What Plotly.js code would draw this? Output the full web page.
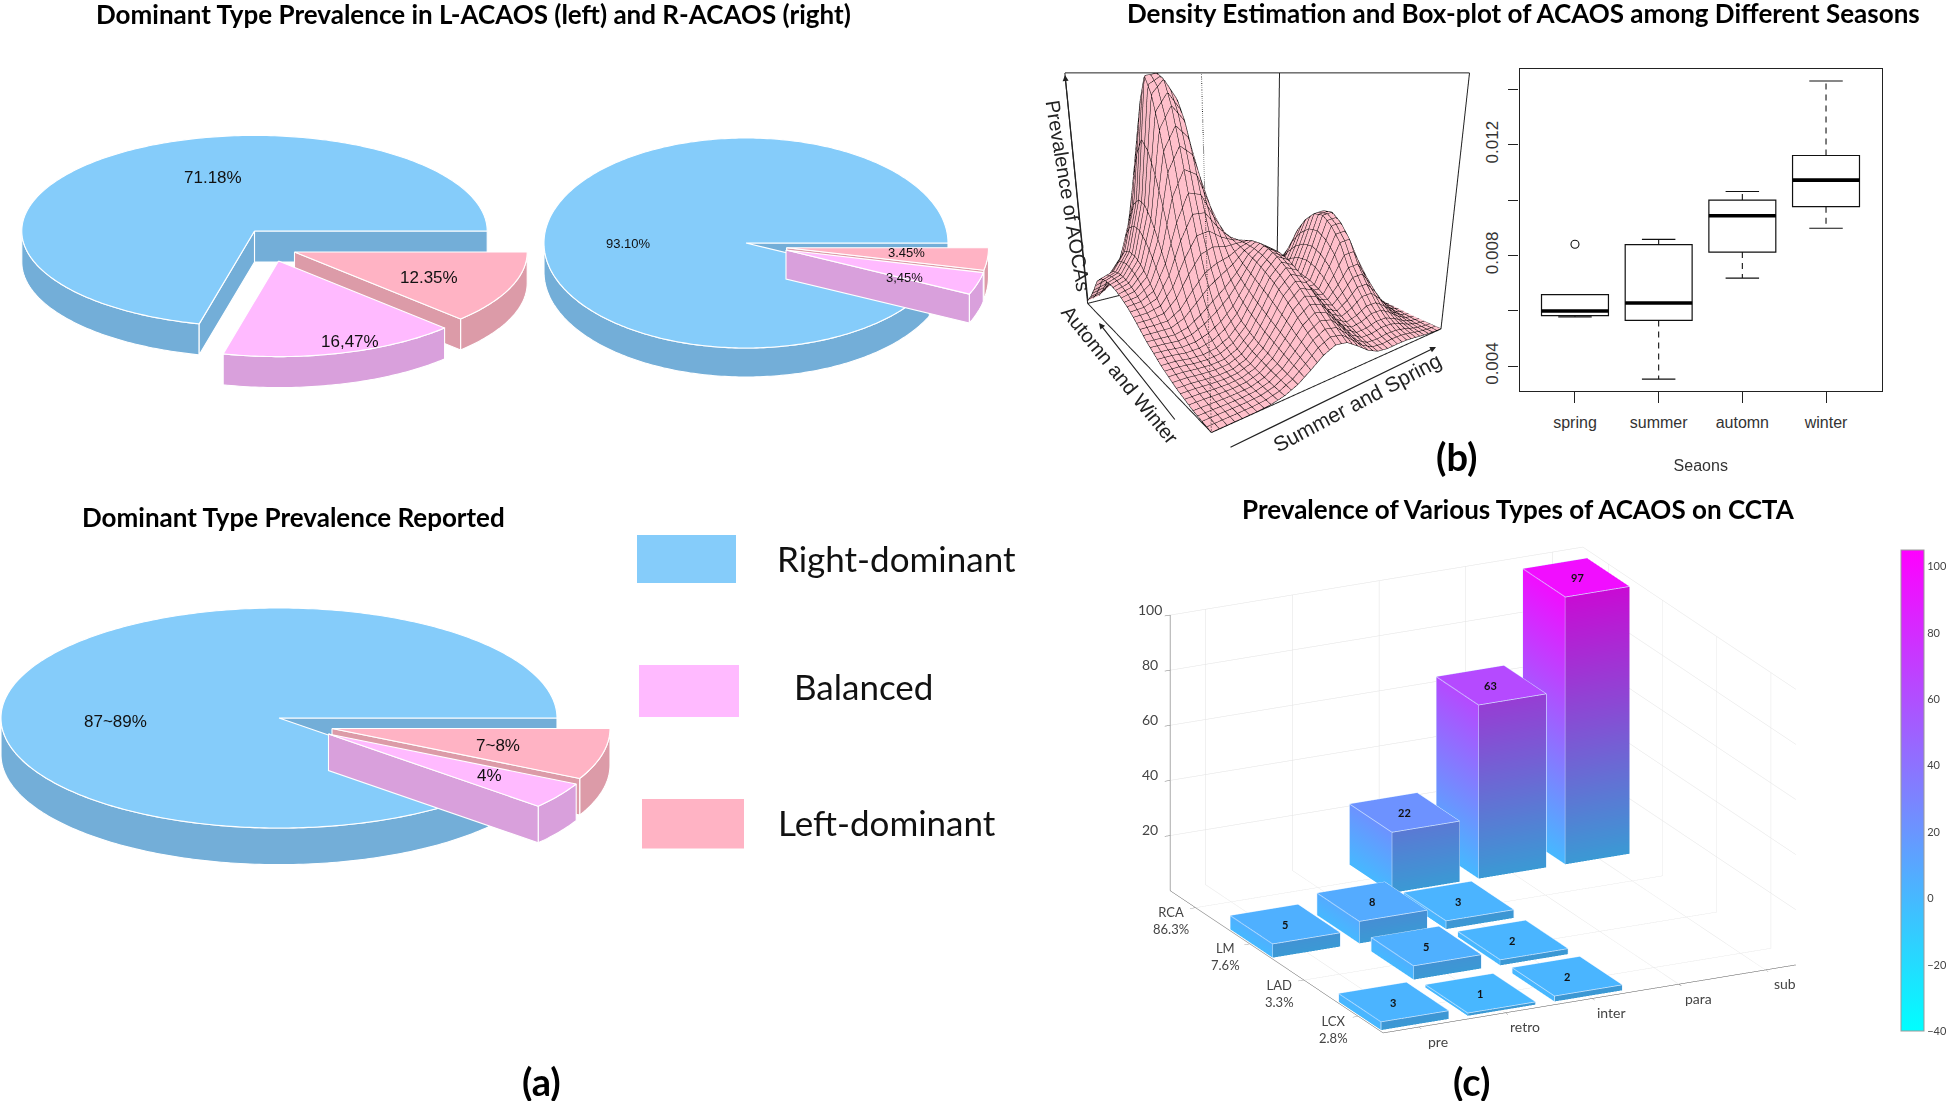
<!DOCTYPE html>
<html><head><meta charset="utf-8">
<script src="https://cdn.plot.ly/plotly-3.0.1.min.js"></script>
<style>html,body{margin:0;padding:0;background:#fff;overflow:hidden}#c{width:1946px;height:1101px}</style>
</head><body><div id="c"></div>
<script>
// ---------- data ----------
const domTypes = ['Right-dominant','Balanced','Left-dominant'];
const sharesLeftPie = [71.18,16.47,12.35];
const labelsLeftPie = ['71.18%','16,47%','12.35%'];
const sharesRightPie = [93.10,3.45,3.45];
const labelsRightPie = ['93.10%','3,45%','3.45%'];
const sharesReported = [88.6,3.9,7.5];
const labelsReported = ['87~89%','4%','7~8%'];

const seasons = ['spring','summer','automn','winter'];
const seasonPos = [1,2,3,4];
const boxQ1 = [0.00582,0.00565,0.00812,0.00976];
const boxMedian = [0.00599,0.00628,0.00943,0.01072];
const boxQ3 = [0.00658,0.00839,0.0100,0.01161];
const boxLow = [0.00578,0.00353,0.00718,0.00898];
const boxHigh = [0.00658,0.00858,0.01031,0.0143];
const boxOutlierSeason = [1];
const boxOutlierValue = [0.0084];
const boxTicks = [0.004,0.006,0.008,0.010,0.012,0.014];
const boxTickText = ['0.004','','0.008','','0.012',''];

const gridU = [0,1,2,3,4,5,6,7,8,9,10,11,12,13,14,15,16,17,18,19,20];
const gridV = gridU;
const density = [
[0,0,0,.001,.004,.014,.035,.069,.106,.127,.118,.086,.05,.027,.02,.021,.02,.014,.007,.003,.001],
[.005,.005,.004,.004,.007,.019,.046,.09,.138,.164,.153,.111,.066,.039,.035,.041,.039,.029,.015,.005,.001],
[.01,.009,.007,.007,.01,.025,.058,.113,.172,.205,.191,.14,.086,.057,.059,.072,.071,.052,.027,.01,.003],
[.02,.018,.014,.012,.016,.032,.073,.138,.21,.25,.233,.171,.107,.079,.092,.118,.118,.087,.045,.016,.004],
[.03,.028,.022,.019,.022,.041,.087,.162,.245,.29,.27,.2,.13,.106,.137,.181,.182,.134,.069,.025,.007],
[.045,.042,.035,.031,.034,.057,.107,.188,.277,.326,.303,.225,.151,.135,.187,.25,.254,.186,.097,.035,.009],
[.06,.057,.048,.045,.054,.081,.132,.214,.303,.354,.329,.244,.168,.162,.25,.345,.35,.25,.124,.045,.012],
[.081,.076,.068,.072,.09,.122,.171,.244,.326,.371,.343,.255,.18,.183,.29,.405,.41,.295,.146,.053,.014],
[.101,.098,.094,.108,.143,.186,.228,.279,.343,.378,.346,.257,.185,.193,.31,.44,.445,.32,.158,.058,.015],
[.127,.126,.128,.161,.225,.284,.313,.329,.358,.374,.336,.25,.179,.19,.305,.435,.44,.315,.156,.057,.015],
[.153,.155,.169,.233,.338,.421,.431,.395,.373,.361,.317,.233,.166,.174,.28,.395,.4,.29,.142,.052,.013],
[.175,.181,.211,.312,.47,.582,.568,.47,.387,.341,.288,.21,.147,.149,.235,.33,.335,.24,.119,.043,.011],
[.191,.204,.253,.398,.66,.759,.719,.551,.398,.314,.253,.18,.123,.119,.172,.234,.238,.175,.091,.033,.009],
[.203,.22,.287,.469,.82,.909,.847,.616,.403,.284,.217,.151,.099,.089,.123,.165,.168,.123,.064,.023,.006],
[.209,.229,.307,.516,.95,1.007,.927,.652,.395,.252,.179,.122,.077,.063,.081,.107,.107,.079,.041,.015,.004],
[.207,.229,.311,.526,1.02,1.029,.94,.646,.369,.215,.144,.095,.058,.042,.05,.063,.064,.047,.024,.009,.002],
[.198,.218,.295,.497,.92,.966,.877,.593,.325,.175,.11,.07,.041,.027,.028,.035,.034,.025,.013,.005,.001],
[.167,.185,.252,.426,.77,.83,.752,.503,.268,.137,.081,.05,.029,.017,.015,.018,.017,.013,.007,.002,.001],
[.106,.122,.181,.325,.58,.655,.593,.394,.207,.102,.058,.035,.02,.011,.008,.008,.008,.006,.003,.001,0],
[.054,.068,.114,.224,.374,.47,.425,.283,.147,.071,.04,.023,.013,.007,.004,.004,.003,.002,.001,0,0],
[.013,.024,.06,.14,.245,.311,.283,.189,.098,.047,.026,.016,.008,.004,.002,.002,.001,.001,0,0,0]
];

const acaosTypes = ['pre','retro','inter','para','sub'];
const acaosTypePos = [1,2,3,4,5];
const arteries = ['LCX<br>2.8%','LAD<br>3.3%','LM<br>7.6%','RCA<br>86.3%'];
const arteryPos = [1,2,3,4];
const lcxCounts = [3,1,2,null,null];
const ladCounts = [null,5,2,null,null];
const lmCounts  = [5,8,3,null,null];
const rcaCounts = [null,null,22,63,97];
const zTicks = [20,40,60,80,100];
const colorTicks = [-40,-20,0,20,40,60,80,100];

// ---------- page helpers ----------
const W=1946,H=1101;
const PX=x=>x/W, PY=y=>1-y/H;
const topCol=['#85ccfa','#ffbaff','#ffb3c4'], sideCol=['#73aed8','#d9a0dc','#dc9ba8'];
const LAT='Lato, sans-serif', NARROW='"Liberation Sans", Arial, sans-serif', ARIAL='"Liberation Sans", Arial, sans-serif';

const traces=[];
function poly(xs,ys,fill){
  traces.push({type:'scatter',mode:'lines',x:xs.concat(xs[0]),y:ys.concat(ys[0]),fill:'toself',fillcolor:fill,
    line:{color:'#ffffff',width:1.1,simplify:false},hoverinfo:'skip',showlegend:false,xaxis:'x',yaxis:'y'});
}
function wedge(p,a0,a1,off,idx){
  const cx=p.cx+off[0],cy=p.cy+off[1];
  const pt=(a)=>[cx+p.rx*Math.cos(a*Math.PI/180),cy-p.ry*Math.sin(a*Math.PI/180)];
  const rimX=[],rimY=[];
  const r0=Math.max(a0,180),r1=Math.min(a1,360);
  if(r1>r0){
    for(let a=r0;a<r1;a+=1){const q=pt(a);rimX.push(q[0]);rimY.push(q[1]);}
    const q=pt(r1);rimX.push(q[0]);rimY.push(q[1]);
    poly(rimX.concat(rimX.slice().reverse()),rimY.concat(rimY.slice().reverse().map(v=>v+p.d)),sideCol[idx]);
  }
  const wall=(a)=>{const q=pt(a);poly([cx,q[0],q[0],cx],[cy,q[1],q[1]+p.d,cy+p.d],sideCol[idx]);};
  if(Math.cos(a0*Math.PI/180)>0) wall(a0);
  if(Math.cos(a1*Math.PI/180)<0) wall(a1);
  const tx=[cx],ty=[cy];
  for(let a=a0;a<a1;a+=1){const q=pt(a);tx.push(q[0]);ty.push(q[1]);}
  const q=pt(a1);tx.push(q[0]);ty.push(q[1]);
  poly(tx,ty,topCol[idx]);
}
function pie3d(shares,p){
  const a=[0];shares.forEach(s=>a.push(a[a.length-1]+s*3.6));
  wedge(p,a[0],a[1],[0,0],0);
  wedge(p,a[2],a[3],p.off[2],2);
  wedge(p,a[1],a[2],p.off[1],1);
}
pie3d(sharesLeftPie,{cx:254.5,cy:231,rx:232.7,ry:95.6,d:31,off:[null,[24,30],[40,21]]});
pie3d(sharesRightPie,{cx:746,cy:243,rx:202,ry:105,d:29,off:[null,[40,7],[40.5,4.7]]});
pie3d(sharesReported,{cx:279,cy:718,rx:278,ry:110,d:36.6,off:[null,[49.5,16],[53,10.5]]});

// ---------- box plot ----------
traces.push({type:'box',x:seasonPos,q1:boxQ1,median:boxMedian,q3:boxQ3,lowerfence:boxQ1,upperfence:boxQ3,width:.8,whiskerwidth:0,
  boxpoints:false,fillcolor:'rgba(0,0,0,0)',line:{color:'#111',width:1.2},xaxis:'x2',yaxis:'y2',showlegend:false,hoverinfo:'skip'});
const medX=[],medY=[],whX=[],whY=[],capX=[],capY=[];
seasonPos.forEach((s,i)=>{
  medX.push(s-.4,s+.4,null);medY.push(boxMedian[i],boxMedian[i],null);
  if(boxHigh[i]>boxQ3[i]){whX.push(s,s,null);whY.push(boxQ3[i],boxHigh[i],null);capX.push(s-.2,s+.2,null);capY.push(boxHigh[i],boxHigh[i],null);}
  whX.push(s,s,null);whY.push(boxQ1[i],boxLow[i],null);capX.push(s-.2,s+.2,null);capY.push(boxLow[i],boxLow[i],null);
});
traces.push({type:'scatter',mode:'lines',x:medX,y:medY,line:{color:'#000',width:3.6},xaxis:'x2',yaxis:'y2',showlegend:false,hoverinfo:'skip'});
traces.push({type:'scatter',mode:'lines',x:whX,y:whY,line:{color:'#111',width:1.1,dash:'6px,5px'},xaxis:'x2',yaxis:'y2',showlegend:false,hoverinfo:'skip'});
traces.push({type:'scatter',mode:'lines',x:capX,y:capY,line:{color:'#111',width:1.1},xaxis:'x2',yaxis:'y2',showlegend:false,hoverinfo:'skip'});
traces.push({type:'scatter',mode:'markers',x:boxOutlierSeason,y:boxOutlierValue,marker:{symbol:'circle-open',size:8,color:'#111',line:{width:1.1,color:'#111'}},xaxis:'x2',yaxis:'y2',showlegend:false,hoverinfo:'skip'});

// ---------- density surface ----------
traces.push({type:'surface',scene:'scene',x:gridU,y:gridV,z:density,showscale:false,cmin:0,cmax:1,
  colorscale:[[0,'#ffc0cb'],[1,'#ffc0cb']],
  lighting:{ambient:.92,diffuse:.25,specular:0,roughness:1,fresnel:0},lightposition:{x:-1000,y:-3000,z:3000},
  contours:{x:{show:true,start:0,end:20,size:.5,color:'#000000',width:1.4,highlight:false},
            y:{show:true,start:0,end:20,size:.5,color:'#000000',width:1.4,highlight:false},z:{highlight:false}},
  hoverinfo:'skip'});
const TOP=1.03;
const ln=(pts,dash,w,col)=>traces.push({type:'scatter3d',mode:'lines',scene:'scene',x:pts.map(p=>p&&p[0]),y:pts.map(p=>p&&p[1]),z:pts.map(p=>p&&p[2]),
  line:{color:col||'#222',width:w||2,dash:dash||'solid'},showlegend:false,hoverinfo:'skip'});
ln([[0,0,TOP],[20,0,TOP],[20,20,TOP],[0,20,TOP],[0,0,TOP],null,[0,20,0],[0,20,TOP],null,[20,0,0],[20,0,TOP],null,[20,20,0],[20,20,TOP],null,[0,0,0],[20,0,0],[20,20,0],[0,20,0],[0,0,0]]);
ln([[0,0,0],[0,0,TOP]],'dot',2);

// ---------- 3D bars ----------
const rows=[lcxCounts,ladCounts,lmCounts,rcaCounts];
const hw=.39;
const A={x:[],y:[],z:[],i:[],j:[],k:[],v:[]},B={x:[],y:[],z:[],i:[],j:[],k:[],v:[]};
const eX=[],eY=[],eZ=[],barNotes=[];
function face(m,c){const n=m.x.length;c.forEach(p=>{m.x.push(p[0]);m.y.push(p[1]);m.z.push(p[2]);m.v.push(p[3]);});m.i.push(n,n);m.j.push(n+1,n+2);m.k.push(n+2,n+3);}
rows.forEach((r,ri)=>r.forEach((val,ci)=>{
  if(val===null) return;
  const x0=acaosTypePos[ci]-hw,x1=acaosTypePos[ci]+hw,y0=arteryPos[ri]-hw,y1=arteryPos[ri]+hw;
  face(A,[[x0,y0,val,val],[x1,y0,val,val],[x1,y1,val,val],[x0,y1,val,val]]);
  face(A,[[x0,y0,0,0],[x0,y1,0,0],[x0,y1,val,val],[x0,y0,val,val]]);
  face(B,[[x0,y0,0,0],[x1,y0,0,0],[x1,y0,val,val],[x0,y0,val,val]]);
  [[x0,y0,val],[x1,y0,val],[x1,y1,val],[x0,y1,val],[x0,y0,val],[NaN,NaN,NaN],[x0,y0,0],[x0,y0,val],[NaN,NaN,NaN],[x0,y1,0],[x0,y1,val],[NaN,NaN,NaN],[x1,y0,0],[x1,y0,val],[NaN,NaN,NaN]]
    .forEach(p=>{eX.push(p[0]);eY.push(p[1]);eZ.push(p[2]);});
  barNotes.push({x:acaosTypePos[ci],y:arteryPos[ri],z:val,text:'<b>'+val+'</b>',showarrow:false,font:{family:LAT,size:11,color:'#111'}});
}));
const bright=[[0,'#00ffff'],[1,'#ff00ff']],dark=[[0,'#00d4d4'],[1,'#d400d4']];
traces.push({type:'mesh3d',scene:'scene2',x:A.x,y:A.y,z:A.z,i:A.i,j:A.j,k:A.k,intensity:A.v,colorscale:bright,cmin:-40,cmax:105,
  lighting:{ambient:1,diffuse:0,specular:0,fresnel:0,roughness:1},hoverinfo:'skip',
  colorbar:{x:PX(1901),xanchor:'left',y:PY(790.5),yanchor:'middle',len:481,lenmode:'pixels',thickness:23,thicknessmode:'pixels',xpad:0,ypad:0,
    tickvals:colorTicks,ticks:'',outlinecolor:'#999',outlinewidth:1,tickfont:{family:LAT,size:11,color:'#444'}}});
traces.push({type:'mesh3d',scene:'scene2',x:B.x,y:B.y,z:B.z,i:B.i,j:B.j,k:B.k,intensity:B.v,colorscale:dark,cmin:-40,cmax:105,showscale:false,
  lighting:{ambient:1,diffuse:0,specular:0,fresnel:0,roughness:1},hoverinfo:'skip'});
traces.push({type:'scatter3d',mode:'lines',scene:'scene2',x:eX,y:eY,z:eZ,line:{color:'#d8ecff',width:1.5},showlegend:false,hoverinfo:'skip'});

// ---------- layout ----------
const ann=(x,y,text,size,o)=>Object.assign({xref:'paper',yref:'paper',x:PX(x),y:PY(y),text:text,showarrow:false,xanchor:'center',yanchor:'middle',
  font:{family:LAT,size:size,color:'#000'}},o||{});
const bold=t=>'<b>'+t+'</b>';
const narrow=(x,y,t,s)=>ann(x,y,t,s,{font:{family:NARROW,size:s,color:'#111'}});
const persp=(x,y,t,s,a)=>ann(x,y,t,s,{textangle:a,font:{family:ARIAL,size:s,color:'#222'}});
const arrow=(x,y,x0,y0)=>({xref:'paper',yref:'paper',x:PX(x),y:PY(y),ax:x0-x,ay:y0-y,axref:'pixel',ayref:'pixel',text:'',showarrow:true,arrowhead:2,arrowsize:1,arrowwidth:1.2,arrowcolor:'#222'});
const annotations=[
  ann(473,14,bold('Dominant Type Prevalence in L-ACAOS (left) and R-ACAOS (right)'),26),
  ann(293,517,bold('Dominant Type Prevalence Reported'),26),
  ann(1523,13,bold('Density Estimation and Box-plot of ACAOS among Different Seasons'),26),
  ann(1518,509,bold('Prevalence of Various Types of ACAOS on CCTA'),26),
  ann(541,1081,bold('(a)'),38), ann(1456,456,bold('(b)'),38), ann(1471,1081,bold('(c)'),38),
  narrow(213,178,labelsLeftPie[0],17), narrow(350,341,labelsLeftPie[1],17), narrow(429,278,labelsLeftPie[2],17),
  narrow(628,244,labelsRightPie[0],13), narrow(904,278,labelsRightPie[1],13), narrow(906,253,labelsRightPie[2],13),
  narrow(115,721,labelsReported[0],17), narrow(489,775,labelsReported[1],17), narrow(498,745,labelsReported[2],17),
  ann(775,558,domTypes[0],35,{xanchor:'left',font:{family:LAT,size:35,color:'#111'}}),
  ann(792,686,domTypes[1],35,{xanchor:'left',font:{family:LAT,size:35,color:'#111'}}),
  ann(776,822,domTypes[2],35,{xanchor:'left',font:{family:LAT,size:35,color:'#111'}}),
  persp(1068,195,'Prevalence of AOCAs',20,80.6), persp(1120,375,'Automn and Winter',20,50.8), persp(1357,403,'Summer and Spring',21,-28),
  arrow(1065,75,1088,302), arrow(1099,323,1176,421), arrow(1436,347,1229,448)
];
const shapes=[[637,535,736,583,0],[639,665,739,717,1],[642,799,744,848.5,2]].map(s=>({type:'rect',xref:'paper',yref:'paper',x0:PX(s[0]),x1:PX(s[2]),y0:PY(s[1]),y1:PY(s[3]),fillcolor:topCol[s[4]],line:{width:0}}));

const xAxisNotes=acaosTypes.map((t,i)=>({x:acaosTypePos[i],y:.54,z:0,text:t,showarrow:false,xshift:20,yshift:-14,font:{family:LAT,size:14,color:'#444'}}));
const yAxisNotes=arteries.map((t,i)=>({x:.59,y:arteryPos[i],z:0,text:t,showarrow:false,xshift:-24,yshift:-13,font:{family:LAT,size:13,color:'#444'}}));
const zAxisNotes=zTicks.map(t=>({x:.59,y:4.47,z:t,text:String(t),showarrow:false,xshift:-20,yshift:6,font:{family:LAT,size:14,color:'#444'}}));
const gridAxis=(rng,vals)=>({range:rng,tickvals:vals,showticklabels:false,showgrid:true,gridcolor:'#e2e2e2',gridwidth:1,zeroline:false,showbackground:false,
  showline:true,linecolor:'#555',linewidth:1,ticks:'outside',ticklen:6,tickcolor:'#777',title:{text:''},showspikes:false});

const layout={width:W,height:H,margin:{l:0,r:0,t:0,b:0},paper_bgcolor:'#fff',plot_bgcolor:'rgba(0,0,0,0)',showlegend:false,
  xaxis:{domain:[0,1],range:[0,W],visible:false,fixedrange:true},yaxis:{domain:[0,1],range:[H,0],visible:false,fixedrange:true},
  xaxis2:{domain:[PX(1519.5),PX(1882)],anchor:'y2',range:[.337,4.669],tickvals:seasonPos,ticktext:seasons,showline:true,mirror:true,linecolor:'#222',linewidth:1.2,
    ticks:'outside',ticklen:11,tickcolor:'#222',showgrid:false,zeroline:false,ticklabelstandoff:6,tickfont:{family:ARIAL,size:16,color:'#333'},
    title:{text:'Seaons',font:{family:ARIAL,size:16,color:'#333'},standoff:29}},
  yaxis2:{domain:[PY(391),PY(69)],anchor:'x2',range:[.0031,.014735],tickvals:boxTicks,ticktext:boxTickText,tickangle:-90,showline:true,mirror:true,linecolor:'#222',linewidth:1.2,
    ticks:'outside',ticklen:10,tickcolor:'#222',showgrid:false,zeroline:false,ticklabelstandoff:4,tickfont:{family:ARIAL,size:17,color:'#333'}},
  scene:{domain:{x:[PX(1025),PX(1485)],y:[PY(440),PY(10)]},xaxis:{visible:false,range:[0,20]},yaxis:{visible:false,range:[0,20]},zaxis:{visible:false,range:[0,TOP]},
    aspectmode:'manual',aspectratio:{x:1.087,y:1.081,z:1},camera:{eye:{x:-1.184,y:-1.649,z:.5},center:{x:0,y:0,z:-.095},up:{x:0,y:0,z:1},projection:{type:'perspective'}},bgcolor:'rgba(0,0,0,0)'},
  scene2:{domain:{x:[PX(1082.5),PX(1882.5)],y:[PY(1090),PY(490)]},
    xaxis:gridAxis([.59,5.35],acaosTypePos),yaxis:gridAxis([.54,4.47],arteryPos),zaxis:gridAxis([0,100],zTicks),
    aspectmode:'manual',aspectratio:{x:.9625*1.596,y:1.596,z:.6101*1.596},
    camera:{eye:{x:-.4197*3,y:-.845*3,z:.3319*3},center:{x:0,y:0,z:0},up:{x:0,y:0,z:1},projection:{type:'orthographic'}},bgcolor:'rgba(0,0,0,0)',
    annotations:barNotes.concat(xAxisNotes,yAxisNotes,zAxisNotes)},
  annotations:annotations,shapes:shapes};
Plotly.newPlot('c',traces,layout,{displayModeBar:false,staticPlot:false});
</script></body></html>
